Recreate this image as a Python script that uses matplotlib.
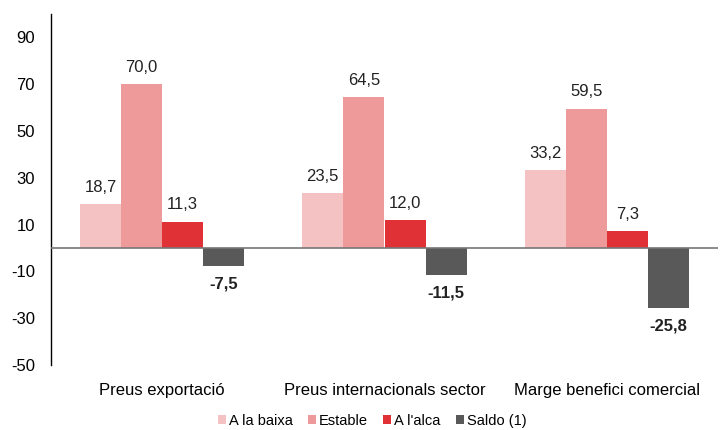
import numpy as np
import matplotlib.pyplot as plt

plt.rcParams['font.family'] = ['Liberation Sans', 'DejaVu Sans']

categories = ["Preus exportació", "Preus internacionals sector", "Marge benefici comercial"]
series_names = ["A la baixa", "Estable", "A l'alca", "Saldo (1)"]
a_la_baixa = [18.7, 23.5, 33.2]
estable = [70.0, 64.5, 59.5]
a_lalca = [11.3, 12.0, 7.3]
saldo = [-7.5, -11.5, -25.8]
colors = ["#F4C2C2", "#EE9A9A", "#E03236", "#595959"]
yticks = [-50, -30, -10, 10, 30, 50, 70, 90]

fig = plt.figure(figsize=(7.21, 4.30), dpi=100)
ax = fig.add_axes([51 / 721, 65 / 430, 667 / 721, 351 / 430])

x = np.arange(len(categories))
w = 0.185
all_series = [a_la_baixa, estable, a_lalca, saldo]
for i, (vals, col, name) in enumerate(zip(all_series, colors, series_names)):
    pos = x + (i - 1.5) * w
    ax.bar(pos, vals, width=w, color=col, label=name, zorder=2)
    for p, v in zip(pos, vals):
        txt = f"{v:.1f}".replace(".", ",")
        if v >= 0:
            ax.text(p, v + 4, txt, ha='center', va='bottom', fontsize=12, color='#222222')
        else:
            ax.text(p, v - 4.5, txt, ha='center', va='top', fontsize=12,
                    fontweight='bold', color='#222222')

ax.axhline(0, color='#777777', linewidth=1.2, zorder=3)
ax.set_xlim(-0.5, 2.5)
ax.set_ylim(-50, 100)
ax.set_yticks(yticks)
ax.set_yticklabels([str(t) for t in yticks], fontsize=12)
ax.set_xticks(x)
ax.set_xticklabels(categories, fontsize=12)
ax.tick_params(axis='x', length=0, pad=13)
ax.tick_params(axis='y', length=0, pad=11.5)
for s in ['top', 'right', 'bottom']:
    ax.spines[s].set_visible(False)
ax.spines['left'].set_color('black')
ax.spines['left'].set_linewidth(1)

ax.legend(loc='center', bbox_to_anchor=(372 / 721, 9 / 430), bbox_transform=fig.transFigure,
          ncol=4, frameon=False, fontsize=10.5, handlelength=0.55, handleheight=0.55,
          handletextpad=0.2, columnspacing=1.05, borderpad=0.1)

fig.savefig("out.png", dpi=100)
